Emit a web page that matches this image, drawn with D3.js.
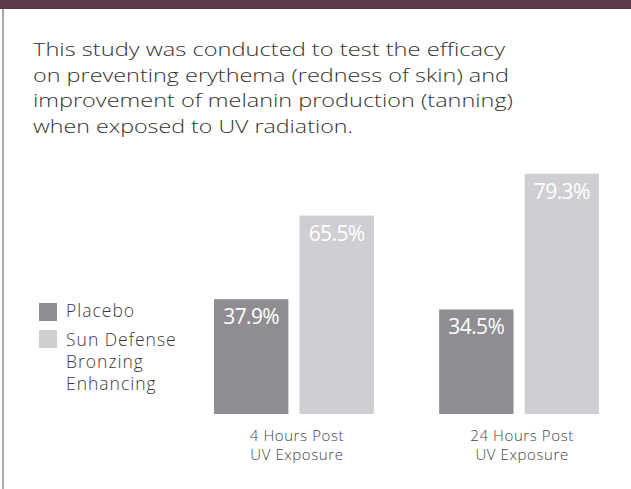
<!DOCTYPE html>
<html>
<head>
<meta charset="utf-8">
<script src="https://cdn.jsdelivr.net/npm/d3@7"></script>
<style>
  body { margin: 0; background: #fff; }
  svg { display: block; }
  text { font-family: "Open Sans", "Lato", sans-serif; font-weight: 300; }
</style>
</head>
<body>
<div id="chart"></div>
<script>
const FRAME_WIDTH = 631;
const FRAME_HEIGHT = 489;

// data
const groups = ["4 Hours Post|UV Exposure", "24 Hours Post|UV Exposure"];
const series = ["Placebo", "Sun Defense|Bronzing|Enhancing"];
const placeboValues = [37.9, 34.5];
const sunDefenseValues = [65.5, 79.3];
const introLines = [
    "This study was conducted to test the efficacy",
    "on preventing erythema (redness of skin) and",
    "improvement of melanin production (tanning)",
    "when exposed to UV radiation."
];
const introWidths = [472, 476, 480, 320];
const COLORS = ["#8f8d92", "#d0ced2"];

const data = groups.map((g, i) => ({group: g, values: [placeboValues[i], sunDefenseValues[i]]}));

const FRAME = d3.select("#chart")
    .append("svg")
    .attr("width", FRAME_WIDTH)
    .attr("height", FRAME_HEIGHT);

// header strip and left border
FRAME.append("rect")
    .attr("x", 0).attr("y", 0)
    .attr("width", FRAME_WIDTH).attr("height", 9)
    .attr("fill", "#5c3a4b");

FRAME.append("rect")
    .attr("x", 2).attr("y", 9)
    .attr("width", 2).attr("height", FRAME_HEIGHT - 9)
    .attr("fill", "#a9a9a9");

// intro paragraph
FRAME.selectAll(".intro")
    .data(introLines)
    .enter()
    .append("text")
        .attr("class", "intro")
        .attr("x", 33)
        .attr("y", (d, i) => 56 + i * 25.6)
        .attr("textLength", (d, i) => introWidths[i])
        .attr("lengthAdjust", "spacingAndGlyphs")
        .attr("font-size", 18.5)
        .attr("fill", "#333")
        .text(d => d);

// scales
const X_SCALE = d3.scaleBand()
    .domain(groups)
    .range([214, 599])
    .paddingInner(0.29)
    .paddingOuter(0);

const X_INNER = d3.scaleBand()
    .domain(series)
    .range([0, X_SCALE.bandwidth()])
    .paddingInner(0.13)
    .paddingOuter(0);

const BASELINE = 414;
const Y_SCALE = d3.scaleLinear()
    .domain([0, 80])
    .range([BASELINE, BASELINE - 80 * 3.03]);

// bars
const G = FRAME.selectAll(".grp")
    .data(data)
    .enter()
    .append("g")
        .attr("class", "grp")
        .attr("transform", d => "translate(" + X_SCALE(d.group) + ",0)");

const cells = G.selectAll(".bar")
    .data(d => d.values.map((v, i) => ({series: series[i], value: v, idx: i})))
    .enter();

cells.append("rect")
    .attr("class", "bar")
    .attr("x", d => X_INNER(d.series))
    .attr("y", d => Y_SCALE(d.value))
    .attr("width", X_INNER.bandwidth())
    .attr("height", d => BASELINE - Y_SCALE(d.value))
    .attr("fill", d => COLORS[d.idx]);

cells.append("text")
    .attr("x", d => X_INNER(d.series) + X_INNER.bandwidth() / 2)
    .attr("y", d => Y_SCALE(d.value) + 25)
    .attr("text-anchor", "middle")
    .attr("font-size", 21)
    .style("font-weight", 500)
    .attr("letter-spacing", -0.6)
    .attr("fill", "#ffffff")
    .text(d => d.value.toFixed(1) + "%");

// category labels
groups.forEach(g => {
    const t = FRAME.append("text")
        .attr("text-anchor", "middle")
        .attr("font-size", 15)
        .attr("letter-spacing", 0.6)
        .attr("fill", "#444");
    g.split("|").forEach((line, i) => {
        t.append("tspan")
            .attr("x", X_SCALE(g) + X_SCALE.bandwidth() / 2 + 3)
            .attr("y", 441 + i * 19)
            .text(line);
    });
});

// legend
const LEGEND = FRAME.append("g").attr("transform", "translate(39,303)");
series.forEach((s, i) => {
    LEGEND.append("rect")
        .attr("x", 0)
        .attr("y", i * 27)
        .attr("width", 18)
        .attr("height", 18)
        .attr("fill", COLORS[i]);
    const t = LEGEND.append("text")
        .attr("font-size", 17.5)
        .attr("letter-spacing", 1)
        .attr("fill", "#3a3a3a");
    s.split("|").forEach((line, j) => {
        t.append("tspan")
            .attr("x", 27)
            .attr("y", 14 + i * 29 + j * 22)
            .text(line);
    });
});
</script>
</body>
</html>
